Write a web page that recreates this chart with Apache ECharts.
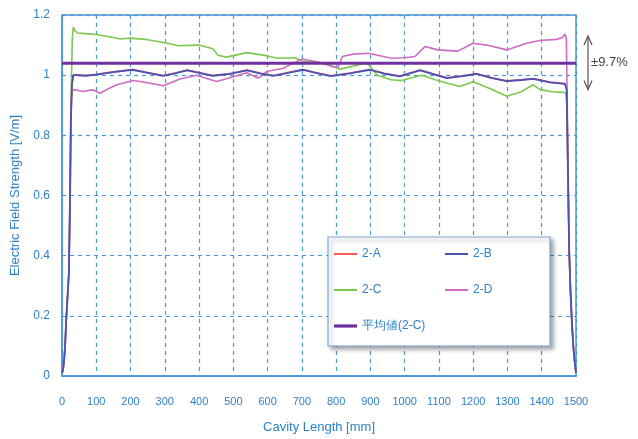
<!DOCTYPE html>
<html><head><meta charset="utf-8">
<script src="https://cdn.jsdelivr.net/npm/echarts@6/dist/echarts.min.js"></script>
<style>html,body{margin:0;padding:0;background:#fff}#c{width:638px;height:439px}</style>
</head><body><div id="c"></div>
<script>
// ---- data ----
const xTicks = [0,100,200,300,400,500,600,700,800,900,1000,1100,1200,1300,1400,1500];
const yTicks = [0,0.2,0.4,0.6,0.8,1,1.2];
const seriesNames = ['2-A','2-B','2-C','2-D','平均値(2-C)'];
const avgValue = 1.04;
const bandTop = 1.13, bandBottom = 0.952;
const bandLabel = '±9.7%';

const leftRise = [[0,0.01],[3,0.02],[6,0.05],[9,0.1],[12,0.18],[16,0.26],[20,0.34]];
const rightFall = [[1476,0.72],[1480,0.42],[1484,0.28],[1488,0.18],[1492,0.1],[1496,0.05],[1500,0.01]];

const dataB = [[23,0.55],[26,0.85],[29,0.97],[33,1.0],[40,1.0],[70,0.998],[100,1.002],[150,1.01],[205,1.018],[250,1.008],[295,0.998],[330,1.006],[365,1.016],[400,1.008],[440,0.998],[490,1.004],[540,1.016],[580,1.005],[617,0.998],[660,1.008],[704,1.018],[740,1.008],[785,0.997],[840,1.006],[899,1.018],[940,1.005],[986,0.996],[1045,1.016],[1085,1.003],[1123,0.99],[1170,0.997],[1210,1.004],[1255,0.99],[1298,0.98],[1340,0.984],[1375,0.988],[1424,0.976],[1468,0.971],[1473,0.95]];
const dataA = [[23,0.55],[26,0.85],[29,0.97],[33,1.0],[40,1.001],[70,0.999],[100,1.003],[150,1.011],[205,1.019],[250,1.009],[295,0.999],[330,1.007],[365,1.017],[400,1.009],[440,0.999],[490,1.005],[540,1.017],[580,1.006],[617,0.999],[660,1.009],[704,1.019],[740,1.009],[785,0.998],[840,1.007],[899,1.019],[940,1.006],[986,0.997],[1045,1.017],[1085,1.004],[1123,0.991],[1170,0.998],[1210,1.005],[1255,0.991],[1298,0.981],[1340,0.985],[1375,0.989],[1424,0.977],[1468,0.972],[1473,0.95]];
const dataC = [[24,0.6],[27,0.95],[30,1.12],[33,1.16],[38,1.148],[45,1.14],[60,1.139],[100,1.135],[150,1.125],[170,1.12],[200,1.123],[250,1.118],[300,1.108],[340,1.098],[400,1.1],[440,1.088],[455,1.066],[480,1.06],[540,1.075],[600,1.064],[630,1.056],[680,1.058],[700,1.047],[740,1.043],[780,1.035],[811,1.02],[850,1.03],[885,1.04],[895,1.035],[920,1.0],[960,0.985],[990,0.982],[1050,1.0],[1090,0.985],[1110,0.978],[1160,0.962],[1200,0.978],[1250,0.955],[1298,0.93],[1340,0.945],[1375,0.968],[1395,0.952],[1430,0.945],[1470,0.942],[1473,0.9]];
const dataD = [[23,0.6],[26,0.9],[30,0.952],[45,0.95],[62,0.946],[80,0.95],[91,0.951],[111,0.94],[135,0.955],[160,0.968],[208,0.982],[250,0.975],[296,0.965],[344,0.987],[393,1.0],[420,0.99],[451,0.979],[500,0.995],[539,1.008],[573,0.99],[597,1.012],[646,1.023],[675,1.04],[700,1.054],[733,1.047],[760,1.04],[790,1.028],[805,1.025],[818,1.062],[850,1.07],[894,1.073],[962,1.056],[1000,1.058],[1030,1.062],[1059,1.095],[1097,1.084],[1155,1.08],[1200,1.106],[1239,1.1],[1298,1.084],[1356,1.106],[1395,1.115],[1443,1.119],[1460,1.125],[1468,1.137],[1472,1.12],[1474,0.95]];
const avgLine = [[0,avgValue],[1500,avgValue]];

// ---- chart ----
const axisBlue = '#4b97d8';
const textBlue = '#2f80c6';
const tickFont = "'Liberation Sans Narrow','Liberation Sans',sans-serif";
const colors = ['#ff5a5a','#4a52b2','#7cc94e','#cf6cc2','#7030a0'];
function full(d){ return leftRise.concat(d, rightFall); }

const chart = echarts.init(document.getElementById('c'), null, {renderer:'canvas'});
const lineSeries = (name, data, color, w, z) => ({
  name, type:'line', data, symbol:'none', showSymbol:false, animation:false,
  lineStyle:{color, width:w}, itemStyle:{color}, z
});
const thinIcon = 'path://M0,0H23V2H0Z';
const thickIcon = 'path://M0,0H23V3.2H0Z';
chart.setOption({
  animation:false,
  backgroundColor:'#ffffff',
  grid:{left:62, right:62, top:15, bottom:62, show:true, borderColor:axisBlue, borderWidth:1.5, containLabel:false},
  xAxis:{type:'value', min:0, max:1500, interval:100,
    name:'Cavity Length [mm]', nameLocation:'middle', nameGap:45,
    nameTextStyle:{color:textBlue, fontSize:13, fontFamily:tickFont},
    axisLine:{show:true, lineStyle:{color:axisBlue, width:1.5}},
    axisTick:{show:false},
    axisLabel:{color:textBlue, fontSize:11, margin:20, fontFamily:tickFont,
      formatter:v=> xTicks.includes(v)? String(v):''},
    splitLine:{show:true, lineStyle:{color:axisBlue, type:[4,4], width:1.2}}},
  yAxis:{type:'value', min:0, max:1.2, interval:0.2,
    name:'Electric Field Strength [V/m]', nameLocation:'middle', nameGap:31,
    nameTextStyle:{color:textBlue, fontSize:13, fontFamily:"'Liberation Sans',sans-serif"},
    axisLine:{show:true, lineStyle:{color:axisBlue, width:1.5}},
    axisTick:{show:false},
    axisLabel:{color:textBlue, fontSize:12, margin:12, fontFamily:tickFont,
      formatter:v=>{ const t=yTicks.find(k=>Math.abs(k-v)<1e-9); return t===undefined?'':String(t);} },
    splitLine:{show:true, lineStyle:{color:axisBlue, type:[4,4], width:1.2}}},
  legend:{left:328, top:237, width:215, orient:'horizontal',
    data:[
      {name:seriesNames[0], icon:thinIcon},
      {name:seriesNames[1], icon:thinIcon},
      {name:seriesNames[2], icon:thinIcon},
      {name:seriesNames[3], icon:thinIcon},
      {name:seriesNames[4], icon:thickIcon}
    ],
    itemWidth:23, itemHeight:10, itemGap:22, symbolKeepAspect:true,
    padding:[10,16,13,6],
    backgroundColor:'#ffffff', borderColor:'#7fa8d6', borderWidth:1.2, borderRadius:0,
    shadowColor:'rgba(0,0,0,0.35)', shadowBlur:4, shadowOffsetX:3, shadowOffsetY:3,
    textStyle:{color:textBlue, fontSize:12, width:61, lineHeight:14, fontFamily:tickFont},
    selectedMode:false},
  series:[
    lineSeries(seriesNames[0], full(dataA), colors[0], 1.6, 2),
    lineSeries(seriesNames[2], full(dataC), colors[2], 1.6, 3),
    lineSeries(seriesNames[3], full(dataD), colors[3], 1.6, 4),
    lineSeries(seriesNames[1], full(dataB), colors[1], 1.8, 5),
    lineSeries(seriesNames[4], avgLine, colors[4], 3, 6)
  ]
});

// annotation (double arrow and label), placed from axis values
const xEnd = chart.convertToPixel({gridIndex:0},[1500,bandTop]);
const yTop = xEnd[1];
const yBot = chart.convertToPixel({gridIndex:0},[1500,bandBottom])[1];
const ax = xEnd[0] + 12;
const grey = '#555555';
chart.setOption({graphic:[
  {type:'line', shape:{x1:ax,y1:yTop,x2:ax,y2:yBot}, style:{stroke:grey, lineWidth:1.2}},
  {type:'polyline', shape:{points:[[ax-4,yTop+9],[ax,yTop],[ax+4,yTop+9]]}, style:{stroke:grey, lineWidth:1.2, fill:null}},
  {type:'polyline', shape:{points:[[ax-4,yBot-9],[ax,yBot],[ax+4,yBot-9]]}, style:{stroke:grey, lineWidth:1.2, fill:null}},
  {type:'text', x:ax+3, y:(yTop+yBot)/2, style:{text:bandLabel, fill:'#444444', font:"13px 'Liberation Sans',sans-serif", textVerticalAlign:'middle', textAlign:'left'}}
]});
</script></body></html>
